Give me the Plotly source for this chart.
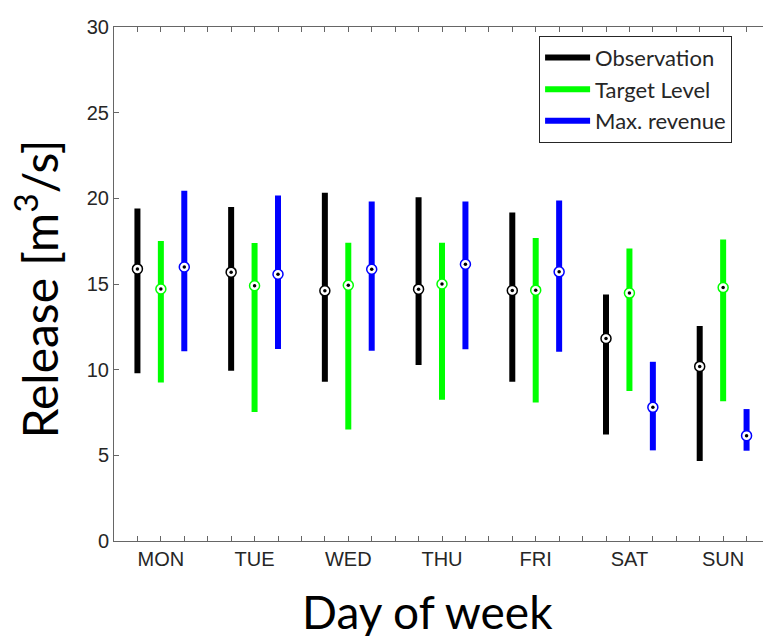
import plotly.graph_objects as go

days = ["MON", "TUE", "WED", "THU", "FRI", "SAT", "SUN"]
series_names = ["Observation", "Target Level", "Max. revenue"]
series_colors = ["#000000", "#00ff00", "#0000ff"]

obs_low = [9.79, 9.93, 9.29, 10.27, 9.29, 6.21, 4.67]
obs_high = [19.41, 19.50, 20.33, 20.06, 19.18, 14.39, 12.55]
obs_mid = [15.88, 15.69, 14.60, 14.70, 14.62, 11.82, 10.19]

tgt_low = [9.25, 7.53, 6.51, 8.24, 8.09, 8.75, 8.16]
tgt_high = [17.51, 17.40, 17.41, 17.41, 17.68, 17.07, 17.60]
tgt_mid = [14.71, 14.90, 14.93, 15.00, 14.64, 14.47, 14.79]

rev_low = [11.07, 11.21, 11.11, 11.19, 11.05, 5.29, 5.27]
rev_high = [20.44, 20.16, 19.81, 19.81, 19.87, 10.46, 7.70]
rev_mid = [15.99, 15.57, 15.86, 16.15, 15.71, 7.80, 6.15]

y_ticks = [0, 5, 10, 15, 20, 25, 30]

lows = [obs_low, tgt_low, rev_low]
highs = [obs_high, tgt_high, rev_high]
mids = [obs_mid, tgt_mid, rev_mid]

fig = go.Figure()
for s in range(3):
    xs, ys = [], []
    pos = [4 * d + 1 + s for d in range(len(days))]
    for d in range(len(days)):
        xs += [pos[d], pos[d], None]
        ys += [lows[s][d], highs[s][d], None]
    fig.add_trace(go.Scatter(x=xs, y=ys, mode="lines", name=series_names[s],
                             line=dict(color=series_colors[s], width=6)))
for s in range(3):
    pos = [4 * d + 1 + s for d in range(len(days))]
    fig.add_trace(go.Scatter(x=pos, y=mids[s], mode="markers", showlegend=False,
                             marker=dict(symbol="circle", size=10, color="white",
                                         line=dict(color=series_colors[s], width=1.5))))
    fig.add_trace(go.Scatter(x=pos, y=mids[s], mode="markers", showlegend=False,
                             marker=dict(symbol="circle", size=3.5, color="black")))

label_pos = [4 * d + 2 for d in range(len(days))]
minor_pos = [v for v in range(1, 4 * len(days)) if v not in label_pos]

axis_common = dict(showline=True, linecolor="#666666", linewidth=1, mirror="ticks",
                   ticks="inside", ticklen=5, tickcolor="#666666", showgrid=False,
                   zeroline=False,
                   tickfont=dict(family="Liberation Sans, Arial", size=20, color="#262626"))

fig.update_layout(
    width=771, height=636,
    margin=dict(l=106, r=8, t=11, b=103),
    plot_bgcolor="white", paper_bgcolor="white",
    xaxis=dict(range=[0, 28], tickmode="array", tickvals=label_pos, ticktext=days,
               minor=dict(tickmode="array", tickvals=minor_pos, ticks="inside",
                          ticklen=5, tickcolor="#666666", showgrid=False),
               **axis_common),
    yaxis=dict(range=[0, 30], tickmode="array", tickvals=y_ticks, **axis_common),
    legend=dict(x=0.648, y=0.983, xanchor="left", yanchor="top",
                bgcolor="white", bordercolor="#262626", borderwidth=1,
                font=dict(family="Lato", size=22, color="#262626"),
                itemwidth=45, tracegroupgap=0),
    annotations=[
        dict(text="Day of week", xref="paper", yref="paper", x=0.478, y=-0.138,
             xanchor="center", yanchor="middle", showarrow=False,
             font=dict(family="Lato", size=46, color="black")),
        dict(text="Release [m<sup>3</sup>/s]", xref="paper", yref="paper",
             x=-0.1187, y=0.4895, xanchor="center", yanchor="middle", textangle=-90,
             showarrow=False, font=dict(family="Lato", size=48, color="black")),
    ],
)

fig.write_html("out.html")
